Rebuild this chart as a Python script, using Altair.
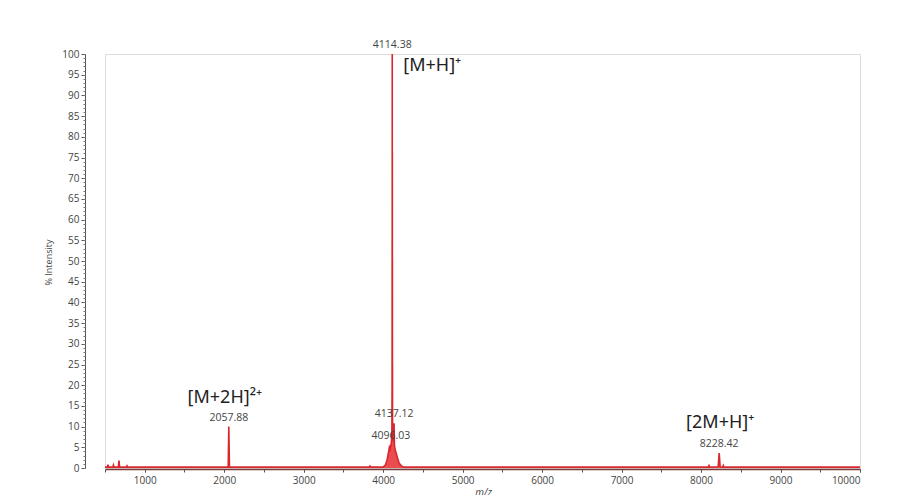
import altair as alt
import pandas as pd

# Mass spectrum trace (m/z vs. relative intensity, %)
mz = [500, 530, 538, 546, 600, 606, 613, 620, 668, 676, 684, 770, 777, 784,
      1500, 2050, 2057.88, 2066, 3000, 3820, 3834, 3848,
      4000, 4030, 4050, 4065, 4078, 4088, 4096.03, 4100, 4106, 4110,
      4112.4, 4113.38, 4113.9, 4114.38, 4114.9, 4115.38, 4115.9, 4116.38,
      4116.9, 4117.38, 4118, 4122, 4130, 4137.12, 4142, 4150, 4165, 4180,
      4200, 4230, 4260, 5000, 8090, 8100, 8110, 8215, 8228.42, 8240,
      8272, 8280, 8288, 8400, 10000]
intensity = [0.2, 0.2, 0.8, 0.2, 0.2, 0.7, 0.3, 0.2, 0.2, 1.8, 0.2, 0.2, 0.5, 0.2,
             0.2, 0.2, 10.0, 0.2, 0.2, 0.2, 0.5, 0.2,
             0.2, 0.8, 2.0, 3.5, 5.0, 4.5, 5.5, 5.5, 7.0, 9.0,
             20.0, 55.0, 30.0, 100.0, 40.0, 76.0, 30.0, 50.0,
             15.0, 25.0, 9.0, 7.5, 6.5, 10.8, 5.5, 4.5, 3.5, 2.5,
             1.2, 0.5, 0.2, 0.2, 0.2, 0.6, 0.2, 0.3, 3.6, 0.3,
             0.2, 0.6, 0.2, 0.2, 0.2]

# Labelled peaks
peak_mz = [4114.38, 2057.88, 4137.12, 4096.03, 8228.42]
peak_int = [100.0, 10.0, 10.8, 5.5, 3.6]
peak_txt = ["4114.38", "2057.88", "4137.12", "4096.03", "8228.42"]

# Ion assignments
ion_txt = ["[M+H]⁺", "[M+2H]²⁺", "[2M+H]⁺"]
ion_mz = [4114.38, 2057.88, 8228.42]
ion_int = [100.0, 10.0, 3.6]

# Axis tick positions
x_major_ticks = list(range(1000, 10001, 1000))
x_minor_ticks = list(range(500, 10001, 500))
y_major_ticks = list(range(0, 101, 5))
y_minor_ticks = list(range(0, 101, 1))

spec = pd.DataFrame({"mz": mz, "intensity": intensity})
peaks = pd.DataFrame({"mz": peak_mz, "intensity": peak_int, "txt": peak_txt})
ions = pd.DataFrame({"mz": ion_mz, "intensity": ion_int, "txt": ion_txt})

x_scale = alt.Scale(domain=[500, 10000], nice=False, zero=False)
y_scale = alt.Scale(domain=[0, 100], nice=False)

LABEL_FONT = "Open Sans"

x_major = alt.Axis(
    orient="bottom", values=x_major_ticks, format="d",
    labelFlush=True, labelOverlap=False,
    labelFont=LABEL_FONT, labelFontSize=10, labelColor="#444",
    labelPadding=3,
    tickSize=3, tickColor="#555",
    domainColor="#7a3a3a", domainWidth=1.5,
    grid=False, offset=1,
    title="m/z", titleFont=LABEL_FONT, titleFontSize=10, titleFontStyle="italic",
    titleFontWeight="normal", titleColor="#444",
    titleX=378, titleY=18, titleBaseline="top", titleAlign="center",
)

x_minor = alt.Axis(
    orient="bottom", values=x_minor_ticks, offset=1,
    labels=False, tickSize=3, tickColor="#555", domain=False, grid=False, title=None,
)

y_major = alt.Axis(
    orient="left", values=y_major_ticks, offset=20,
    labelFont=LABEL_FONT, labelFontSize=10, labelColor="#444", labelPadding=2,
    tickSize=4, tickColor="#555", domainColor="#555", grid=False,
    title="% Intensity", titleFont=LABEL_FONT, titleFontSize=9,
    titleFontWeight="normal", titleColor="#444",
    titleAngle=270, titleX=-37, titleY=208, titleAlign="center", titleBaseline="middle",
)

y_minor = alt.Axis(
    orient="left", values=y_minor_ticks, offset=20,
    labels=False, tickSize=2, tickColor="#777", domain=False, grid=False, title=None,
)

trace = alt.Chart(spec).mark_area(
    color="#e8383c", opacity=0.9,
    line={"color": "#d8282d", "strokeWidth": 1.6},
).encode(
    x=alt.X("mz:Q", scale=x_scale, axis=x_major),
    y=alt.Y("intensity:Q", scale=y_scale, axis=y_major),
)

peak_labels = alt.Chart(peaks).mark_text(
    font=LABEL_FONT, fontSize=10.5, color="#444", baseline="bottom", dy=-4,
).encode(
    x=alt.X("mz:Q", scale=x_scale, axis=x_minor),
    y=alt.Y("intensity:Q", scale=y_scale, axis=y_minor),
    text="txt:N",
)

# Ion assignment labels, each offset from its peak
ion_offsets = [(11, 12, "left"), (-4, -29, "center"), (1, -30, "center")]
ion_layers = []
for i, (dx, dy, align) in enumerate(ion_offsets):
    ion_layers.append(
        alt.Chart(ions.iloc[[i]]).mark_text(
            font="Noto Sans", fontSize=18, color="#222",
            align=align, baseline="middle", dx=dx, dy=dy,
        ).encode(
            x=alt.X("mz:Q", scale=x_scale, axis=None),
            y=alt.Y("intensity:Q", scale=y_scale, axis=None),
            text="txt:N",
        )
    )

chart = alt.layer(trace, peak_labels, *ion_layers).resolve_axis(
    x="independent", y="independent"
).properties(
    width=755, height=414,
    autosize=alt.AutoSizeParams(type="none"),
    padding={"left": 105, "top": 54, "right": 43, "bottom": 27},
).configure_view(stroke=None).configure(background="white")

chart.save("out.html", embed_options={"renderer": "svg", "actions": False})
